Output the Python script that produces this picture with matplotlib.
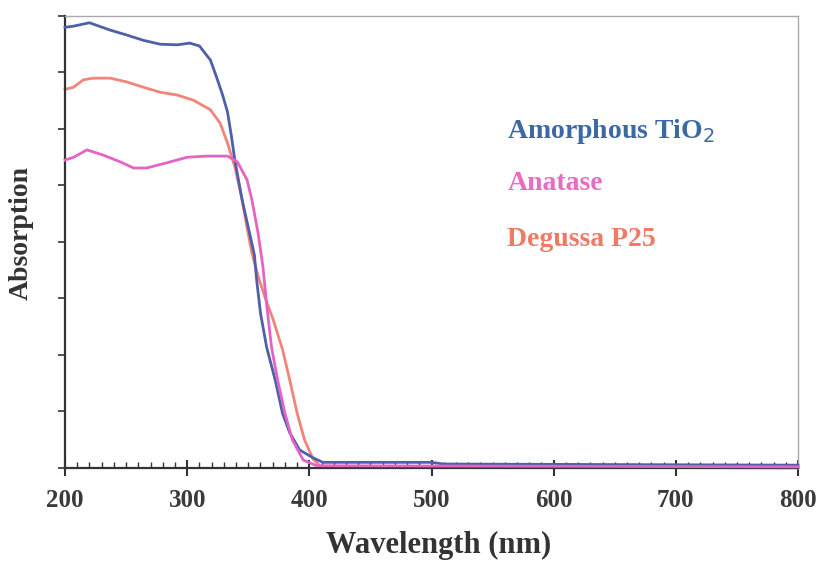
import numpy as np
import matplotlib.pyplot as plt
from matplotlib.ticker import MultipleLocator, NullFormatter

amor_x = [200, 207, 220, 237, 251, 264, 278, 292, 302, 310, 319, 324, 329, 333, 336, 339,
          345, 351, 355, 357, 360, 365, 372, 378, 384, 392, 403, 411, 500, 510, 800]
amor_y = [7.8, 7.82, 7.88, 7.75, 7.66, 7.57, 7.5, 7.49, 7.52, 7.47, 7.22, 6.92, 6.6, 6.3, 5.9, 5.45,
          4.74, 4.16, 3.77, 3.3, 2.74, 2.14, 1.56, 0.97, 0.62, 0.32, 0.18, 0.1, 0.1, 0.07, 0.05]

anat_x = [200, 207, 218, 231, 245, 256, 267, 283, 300, 316, 333, 341, 349, 353, 358, 362,
          365, 369, 374, 380, 386, 395, 406, 800]
anat_y = [5.45, 5.5, 5.63, 5.54, 5.42, 5.31, 5.31, 5.4, 5.5, 5.52, 5.52, 5.42, 5.1, 4.74, 4.16, 3.56,
          2.9, 2.14, 1.56, 0.97, 0.5, 0.14, 0.04, 0.02]

p25_x = [200, 207, 215, 223, 237, 251, 264, 278, 292, 305, 319, 327, 333, 339, 345, 349,
         353, 358, 364, 370, 378, 384, 390, 396, 403, 409, 800]
p25_y = [6.7, 6.74, 6.87, 6.9, 6.9, 6.83, 6.74, 6.65, 6.6, 6.51, 6.34, 6.1, 5.75, 5.33, 4.74, 4.25,
         3.8, 3.4, 3.0, 2.65, 2.1, 1.55, 0.97, 0.5, 0.16, 0.03, 0.0]

labels = ["Amorphous TiO$_2$", "Anatase", "Degussa P25"]
line_cols = ["#4f5fa8", "#e463c4", "#f2857a"]
text_cols = ["#3c68a4", "#e86cc2", "#ef7a66"]
legend_y = [5.96, 5.03, 4.04]

fig = plt.figure(figsize=(8.19, 5.65), dpi=100)
ax = fig.add_axes([0.0794, 0.1717, 0.895, 0.80])

ax.plot(amor_x, amor_y, color=line_cols[0], lw=2, clip_on=False, zorder=3)
ax.plot(p25_x, p25_y, color=line_cols[2], lw=2, clip_on=False, zorder=2)
ax.plot(anat_x, anat_y, color=line_cols[1], lw=2, clip_on=False, zorder=3)

ax.set_xlim(200, 800)
ax.set_ylim(0, 8)
ax.xaxis.set_major_locator(MultipleLocator(100))
ax.xaxis.set_minor_locator(MultipleLocator(10))
ax.yaxis.set_major_locator(MultipleLocator(1))
ax.yaxis.set_major_formatter(NullFormatter())
ax.tick_params(axis='x', which='major', direction='inout', length=12, width=1.5,
               color='#333333', pad=9)
ax.tick_params(axis='x', which='minor', direction='in', length=4, width=1, color='#333333')
ax.tick_params(axis='y', which='major', direction='out', length=5, width=1.2, color='#333333')

for s in ['left', 'bottom']:
    ax.spines[s].set_color('#333333')
    ax.spines[s].set_linewidth(1.6)
for s in ['top', 'right']:
    ax.spines[s].set_color('#aaaaaa')
    ax.spines[s].set_linewidth(1)

for lab in ax.get_xticklabels():
    lab.set_fontfamily('Liberation Serif')
    lab.set_fontsize(18)
    lab.set_fontweight('bold')
    lab.set_color('#3a3a3a')

ax.set_xlabel("Wavelength (nm)", fontfamily='Liberation Serif', fontsize=22,
              fontweight='bold', color='#333333')
ax.xaxis.set_label_coords(0.51, -0.14)
ax.set_ylabel("Absorption", fontfamily='Liberation Serif', fontsize=20,
              fontweight='bold', color='#333333')
ax.yaxis.set_label_coords(-0.043, 0.52)

for lab, c, yy in zip(labels, text_cols, legend_y):
    ax.text(562, yy, lab, color=c, fontfamily='Liberation Serif', fontsize=20,
            fontweight='bold', va='center')

fig.savefig("out.png", dpi=100)
